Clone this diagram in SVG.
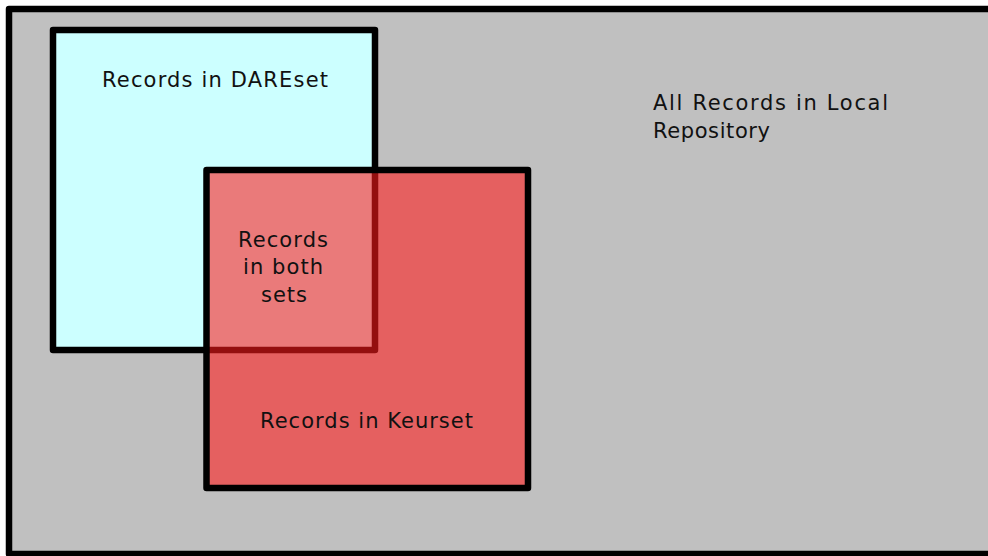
<svg xmlns="http://www.w3.org/2000/svg" width="988" height="556" viewBox="0 0 988 556">
  <style>
    .box { stroke: #000; stroke-width: 6.5; stroke-linejoin: round; }
    .lbl { font-family: "DejaVu Sans", Verdana, sans-serif; font-size: 21px; fill: #111; }
  </style>
  <rect width="988" height="556" fill="#ffffff"/>
  <g id="all-records">
    <rect class="box" x="9" y="9" width="992" height="545" fill="#c0c0c0"/>
    <text class="lbl" x="653" y="110" textLength="235" lengthAdjust="spacing">All Records in Local</text>
    <text class="lbl" x="653" y="138" textLength="117" lengthAdjust="spacing">Repository</text>
  </g>
  <g id="dareset">
    <rect class="box" x="53" y="30" width="322" height="320" fill="#ccffff"/>
    <text class="lbl" x="102" y="87" textLength="226" lengthAdjust="spacing">Records in DAREset</text>
  </g>
  <g id="keurset">
    <rect class="box" x="206.5" y="170" width="321.5" height="318" fill="#ff1a1a" fill-opacity="0.58"/>
    <text class="lbl" x="260" y="428" textLength="213" lengthAdjust="spacing">Records in Keurset</text>
  </g>
  <g id="both-sets">
    <text class="lbl" x="238" y="247" textLength="90" lengthAdjust="spacing">Records</text>
    <text class="lbl" x="243" y="274" textLength="80" lengthAdjust="spacing">in both</text>
    <text class="lbl" x="261" y="302" textLength="46" lengthAdjust="spacing">sets</text>
  </g>
  <g id="connectors"></g>
</svg>
